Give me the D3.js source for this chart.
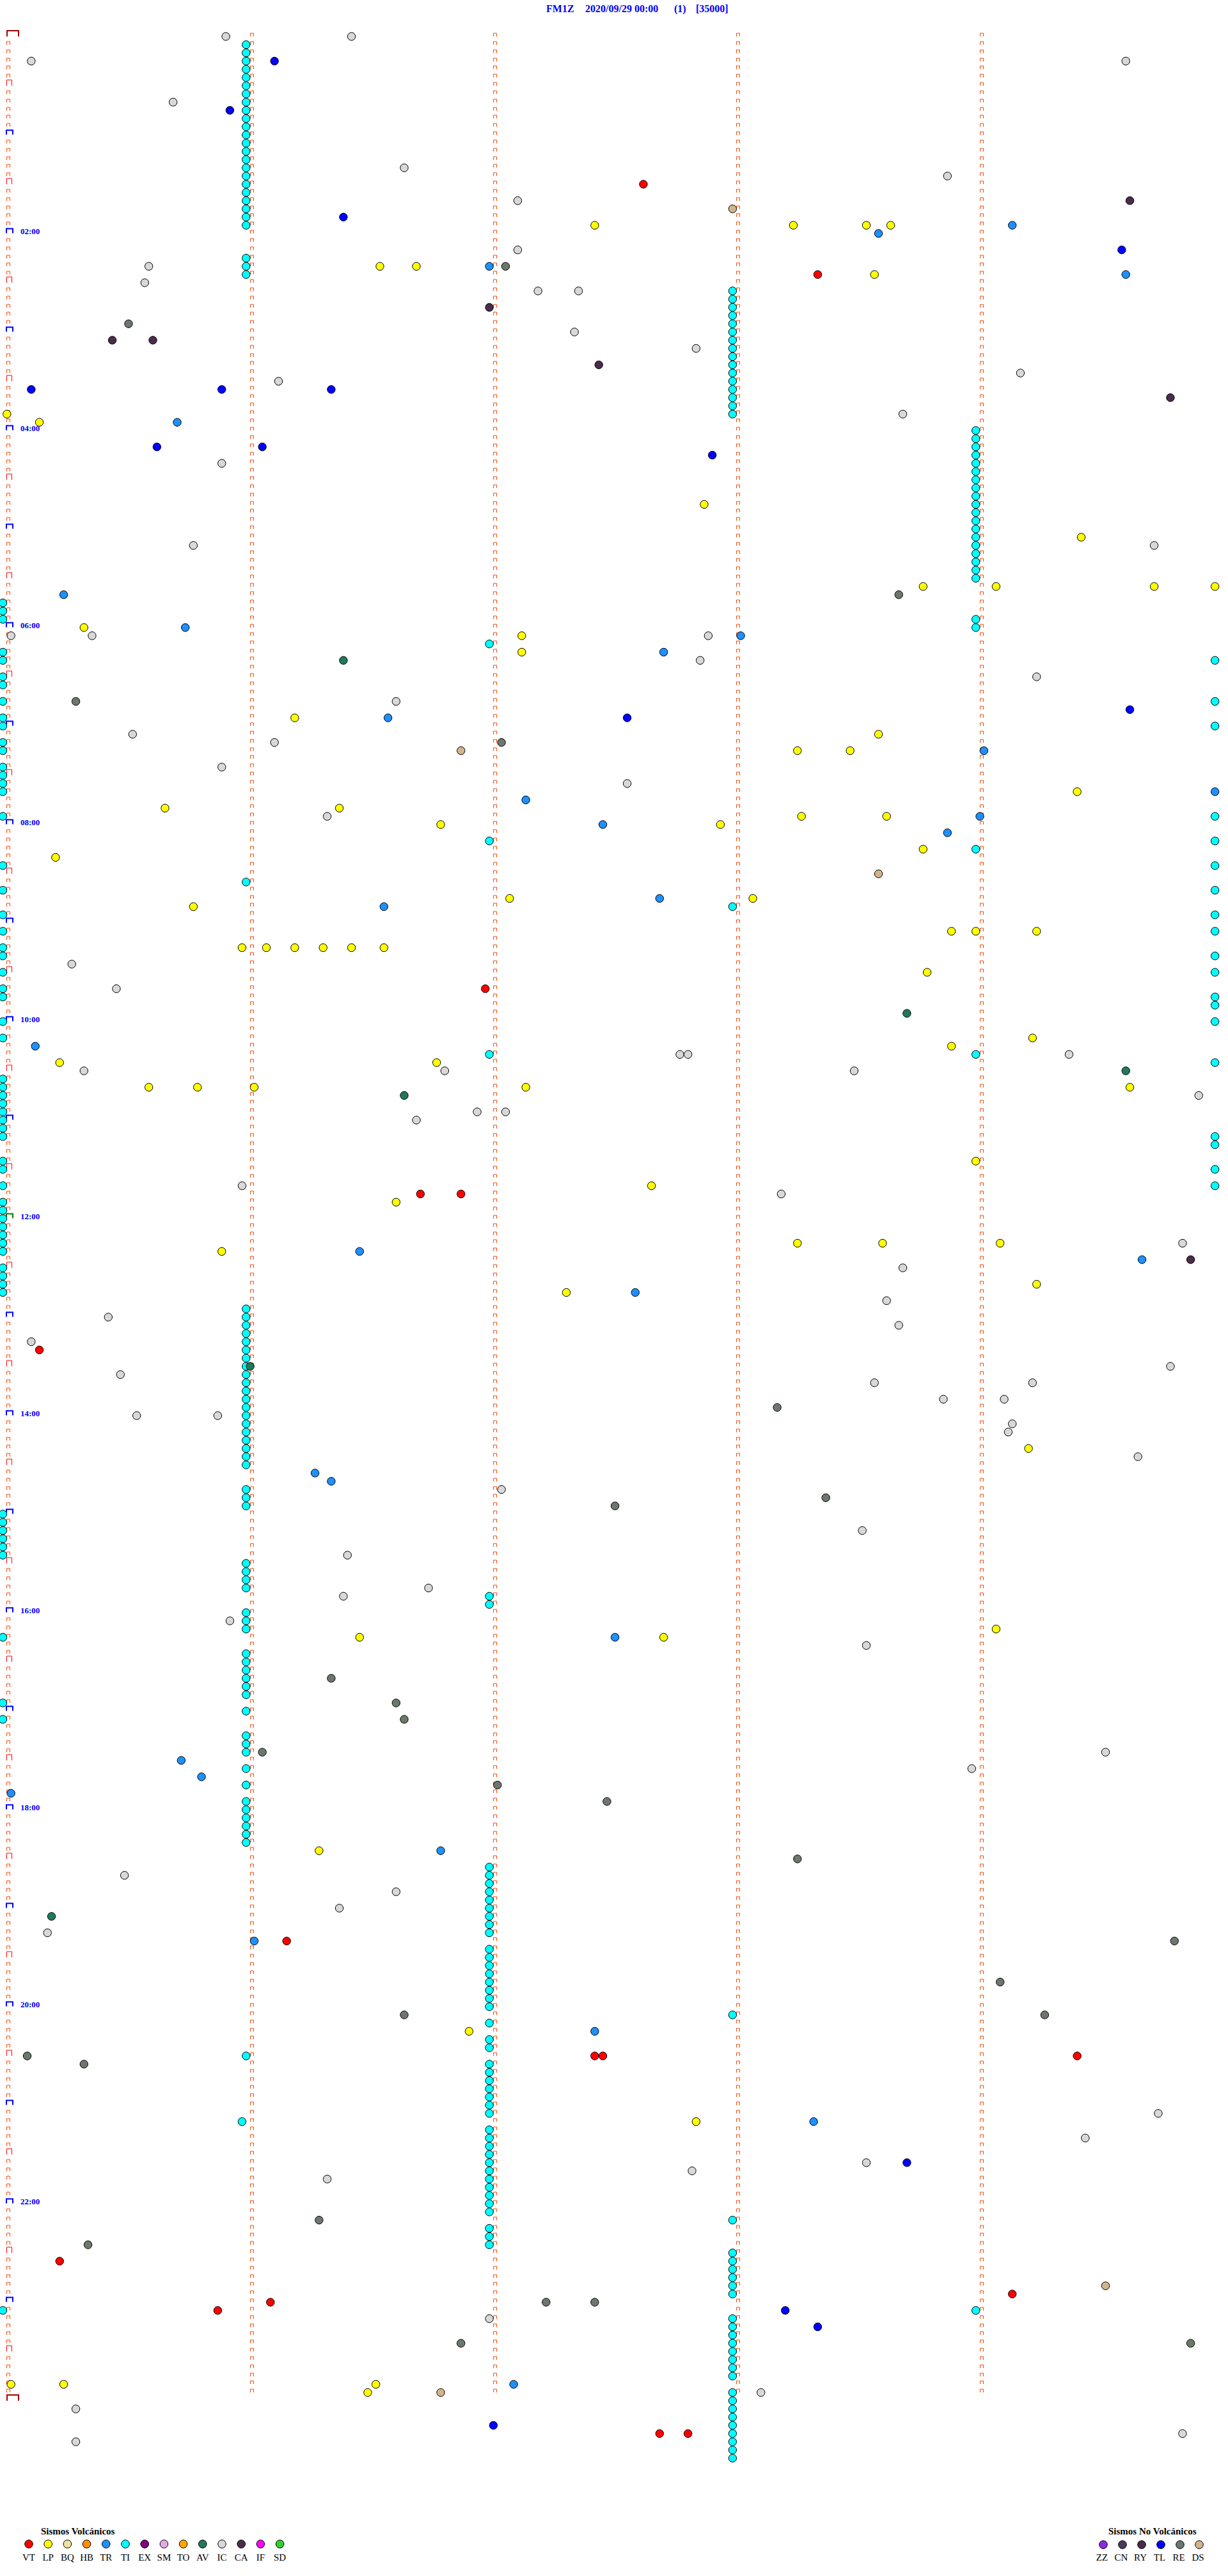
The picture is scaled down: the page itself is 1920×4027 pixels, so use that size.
<!DOCTYPE html>
<html><head><meta charset="utf-8">
<script src="https://cdn.jsdelivr.net/npm/d3@7"></script>
<style>body{margin:0;background:#fff}svg{display:block}</style>
</head><body>
<script>
// Title pieces
const titleParts = ["FM1Z", "2020/09/29 00:00", "(1)", "[35000]"];
// Row = 5 minutes, 288 rows per day; event times in seconds after 2020/09/29 00:00
const hourLabels = ["02:00","04:00","06:00","08:00","10:00","12:00","14:00","16:00","18:00","20:00","22:00"];

const VT = [5558, 8901, 34919, 42403, 42413, 48009, 69670, 73946, 73948, 74065, 81314, 82749, 82866, 83153, 87762, 87769];
const LP = [7046, 7095, 7113, 7119, 8493, 8502, 8915, 13801, 14109, 17273, 18566, 20327, 20345, 20384, 20399, 21620, 22028, 22628, 24972, 25716, 26296, 26309, 27865, 28240, 28283, 28697, 28718, 28908, 28977, 29927, 30013, 31625, 31685, 31847, 32934, 32940, 32955, 33359, 33365, 33372, 33379, 33386, 33394, 34428, 36854, 37134, 37514, 37607, 38436, 38448, 38462, 38529, 38678, 41340, 42160, 42697, 44296, 44317, 44346, 44454, 45855, 46039, 51853, 58445, 58588, 58663, 66378, 73015, 76371, 85802, 85815, 85892, 86190];
const TR = [7149, 7416, 8520, 8977, 14143, 20415, 21645, 22082, 22663, 24995, 26342, 27899, 28029, 28741, 28948, 29333, 31662, 31894, 36908, 44488, 44981, 46056, 52577, 52881, 58651, 63044, 63649, 64202, 66408, 69662, 73046, 76400, 85926];
const TI = [
  360, 660, 960, 1260, 1560, 1860, 2160, 2460, 2760, 3060, 3360, 3660, 3960, 4260, 4560, 4860, 5160, 5460, 5760, 6060, 6360, 6660, 6960,
  8160, 8460, 8760, 30960,
  46560, 46860, 47160, 47460, 47760, 48060, 48360, 48660, 48960, 49260, 49560, 49860, 50160, 50460, 50760, 51060, 51360, 51660, 51960, 52260,
  53160, 53460, 53760, 55860, 56160, 56460, 56760, 57660, 57960, 58260, 59160, 59460, 59760, 60060, 60360, 60660, 61260, 62160, 62460, 62760,
  63360, 63960, 64560, 64860, 65160, 65460, 65760, 66060, 73860, 76259,
  22320, 29520, 37320, 57120, 57420,
  67020, 67320, 67620, 67920, 68220, 68520, 68820, 69120, 69420,
  70020, 70320, 70620, 70920, 71220, 71520, 71820, 72120, 72720, 73320, 73620,
  74220, 74520, 74820, 75120, 75420, 75720, 76020,
  76620, 76920, 77220, 77520, 77820, 78120, 78420, 78720, 79020, 79320, 79620, 80220, 80520, 80820,
  9480, 9780, 10080, 10380, 10680, 10980, 11280, 11580, 11880, 12180, 12480, 12780, 13080, 13380, 13680, 13980,
  31980, 72480, 79980, 81180, 81480, 81780, 82080, 82380, 82680,
  83580, 83880, 84180, 84480, 84780, 85080, 85380, 85680,
  86280, 86580, 86880, 87180, 87480, 87780, 88080, 88380, 88680,
  14640, 14940, 15240, 15540, 15840, 16140, 16440, 16740, 17040, 17340, 17640, 17940, 18240, 18540, 18840, 19140, 19440, 19740, 20040,
  21540, 21840, 29940, 37440, 83340,
  20700, 21000, 21300, 22500, 22800, 23400, 23700, 24300, 24900, 25200, 25800, 26100, 26700, 27000, 27300, 27600, 28500,
  30300, 31200, 32100, 32700, 33300, 33600, 34200, 34800, 35100, 36000, 36600,
  38100, 38400, 38700, 39000, 39300, 39600, 39900, 40200, 41100, 41400, 42000,
  42600, 42900, 43200, 43500, 43800, 44100, 44400, 45000, 45300, 45600, 45900,
  54000, 54300, 54600, 54900, 55200, 55500, 58500, 60900, 61500, 83100,
  23099, 24599, 25499, 28799, 29699, 30599, 31499, 32399, 32999, 33899, 34499, 35399, 35699, 36299, 37799, 40499, 40799, 41699, 42299
];
const AV = [22884, 35923, 38077, 38799, 48661, 68712];
const IC = [55, 86, 907, 1177, 2442, 4899, 5333, 6127, 7927, 8436, 9035, 9432, 9442, 10941, 11571, 12551, 12668, 14022, 15654, 18884, 18647, 21902, 21922, 22074, 22972, 23655, 24397, 25532, 25867, 26754, 27454, 28580, 33917, 34828, 37367, 37369, 37463, 37820, 37909, 38010, 38995, 39417, 39424, 39702, 42059, 42492, 44391, 45222, 46418, 46826, 47321, 47707, 48929, 48888, 49415, 49454, 50032, 50047, 50433, 50453, 50949, 51248, 52180, 53223, 54812, 55585, 56805, 57084, 57956, 59013, 62972, 63539, 67230, 67897, 68483, 69311, 76185, 77067, 77913, 78170, 78380, 83520, 86287, 86718, 87891, 87918];
const CA = [6278, 10020, 11127, 11137, 12147, 13488, 44993];
const TL = [967, 2756, 6684, 8076, 12907, 12954, 12981, 15038, 15064, 15475, 24878, 25054, 77923, 83293, 83901, 87421];
const RE = [8524, 10531, 20621, 24318, 25923, 50291, 53603, 53851, 60081, 60997, 61599, 62764, 64022, 64649, 66796, 69889, 71346, 72399, 72557, 73806, 74120, 79878, 80721, 82934, 82946, 84413, 84593];
const DS = [6480, 26213, 30816, 82472, 86208];

const volcanicTypes  = ["VT","LP","BQ","HB","TR","TI","EX","SM","TO","AV","IC","CA","IF","SD"];
const volcanicColors = ["#ff0000","#ffff00","#efe3a0","#ff8c00","#1e90ff","#00ffff","#800080","#e8a8e8","#ffa500","#207a5a","#d8d8d8","#4a2c4a","#ff00ff","#32cd32"];
const nonVolcanicTypes  = ["ZZ","CN","RY","TL","RE","DS"];
const nonVolcanicColors = ["#8a2be2","#473a5c","#4b2a48","#0000ff","#6e776e","#d2b48c"];

const eventSets = {VT, LP, TR, TI, AV, IC, CA, TL, RE, DS};
const colorOf = {};
volcanicTypes.forEach((t,i)=>colorOf[t]=volcanicColors[i]);
nonVolcanicTypes.forEach((t,i)=>colorOf[t]=nonVolcanicColors[i]);

const W = 1920, H = 4027;
const svg = d3.select("body").append("svg").attr("width", W).attr("height", H)
  .style("background", "#fff");

const x = d3.scaleLinear().domain([0, 300]).range([4.5, 1906]);   // seconds within a 5-minute row
const y = d3.scaleLinear().domain([0, 288]).range([57, 3753]);    // row index

const serif = "'Liberation Serif','Times New Roman',serif";

// Title
const titleX = [854, 915, 1054, 1088];
svg.append("g").selectAll("text").data(titleParts).join("text")
  .attr("x", (d,i)=>titleX[i]).attr("y", 19)
  .attr("font-family", serif).attr("font-weight", "bold").attr("font-size", 16)
  .attr("fill", "#0000ff").text(d=>d);

// Minute markers
const rows = d3.range(0, 288);
const mk = svg.append("g").attr("fill", "none");
function marker(g, x0, yb, w, h, color, sw) {
  g.append("path").attr("d", `M${x0},${yb}V${yb-h}H${x0+w}V${yb}`)
    .attr("stroke", color).attr("stroke-width", sw);
}
[1,2,3,4].forEach(k => {
  rows.forEach(r => marker(mk, Math.round(x(60*k))+6.5, Math.round(y(r)), 5, 5, "#ff4500", 1));
});
d3.range(0, 289).forEach(r => {
  const yb = Math.round(y(r));
  if (r === 0 || r === 288) marker(mk, 11, yb, 18, 9, "#a00000", 2);
  else if (r % 12 === 0) marker(mk, 10, yb - 0.5, 10, 7, r === 144 ? "#008000" : "#0000ff", 2);
  else if (r % 6 === 0) marker(mk, 10.5, yb, 8, 9, "#ff0000", 1);
  else marker(mk, 10.5, yb, 5, 5, "#ff4500", 1);
});

// Hour labels
svg.append("g").selectAll("text").data(hourLabels).join("text")
  .attr("x", 32).attr("y", (d,i)=>y((i+1)*24) + 0.5)
  .attr("font-family", serif).attr("font-weight", "bold").attr("font-size", 13)
  .attr("fill", "#0000ff").text(d=>d);

// Events
const events = [];
Object.entries(eventSets).forEach(([type, arr]) => arr.forEach(t => events.push({type, t})));
events.sort((a,b)=>a.t-b.t);
svg.append("g").selectAll("circle").data(events).join("circle")
  .attr("cx", d => x(d.t - Math.floor(d.t/300)*300))
  .attr("cy", d => y(Math.floor(d.t/300)))
  .attr("r", 6.2)
  .attr("fill", d => colorOf[d.type]).attr("stroke", "#000").attr("stroke-width", 1);

// Legends
const lg = svg.append("g");
lg.append("text").attr("x", 64).attr("y", 3962).attr("font-family", serif).attr("font-weight","bold")
  .attr("font-size", 15).text("Sismos Volcánicos");
volcanicTypes.forEach((t,i) => {
  const cx = 45 + 30.2*i;
  lg.append("circle").attr("cx", cx).attr("cy", 3977).attr("r", 6.3)
    .attr("fill", volcanicColors[i]).attr("stroke", "#000").attr("stroke-width", 1);
  lg.append("text").attr("x", cx).attr("y", 4003).attr("text-anchor","middle")
    .attr("font-family", serif).attr("font-size", 15).text(t);
});
lg.append("text").attr("x", 1733).attr("y", 3962).attr("font-family", serif).attr("font-weight","bold")
  .attr("font-size", 15).text("Sismos No Volcánicos");
nonVolcanicTypes.forEach((t,i) => {
  const cx = 1725 + 30*i;
  lg.append("circle").attr("cx", cx).attr("cy", 3978).attr("r", 6.3)
    .attr("fill", nonVolcanicColors[i]).attr("stroke", "#000").attr("stroke-width", 1);
  lg.append("text").attr("x", cx - 2).attr("y", 4003).attr("text-anchor","middle")
    .attr("font-family", serif).attr("font-size", 15).text(t);
});
</script>
</body></html>
